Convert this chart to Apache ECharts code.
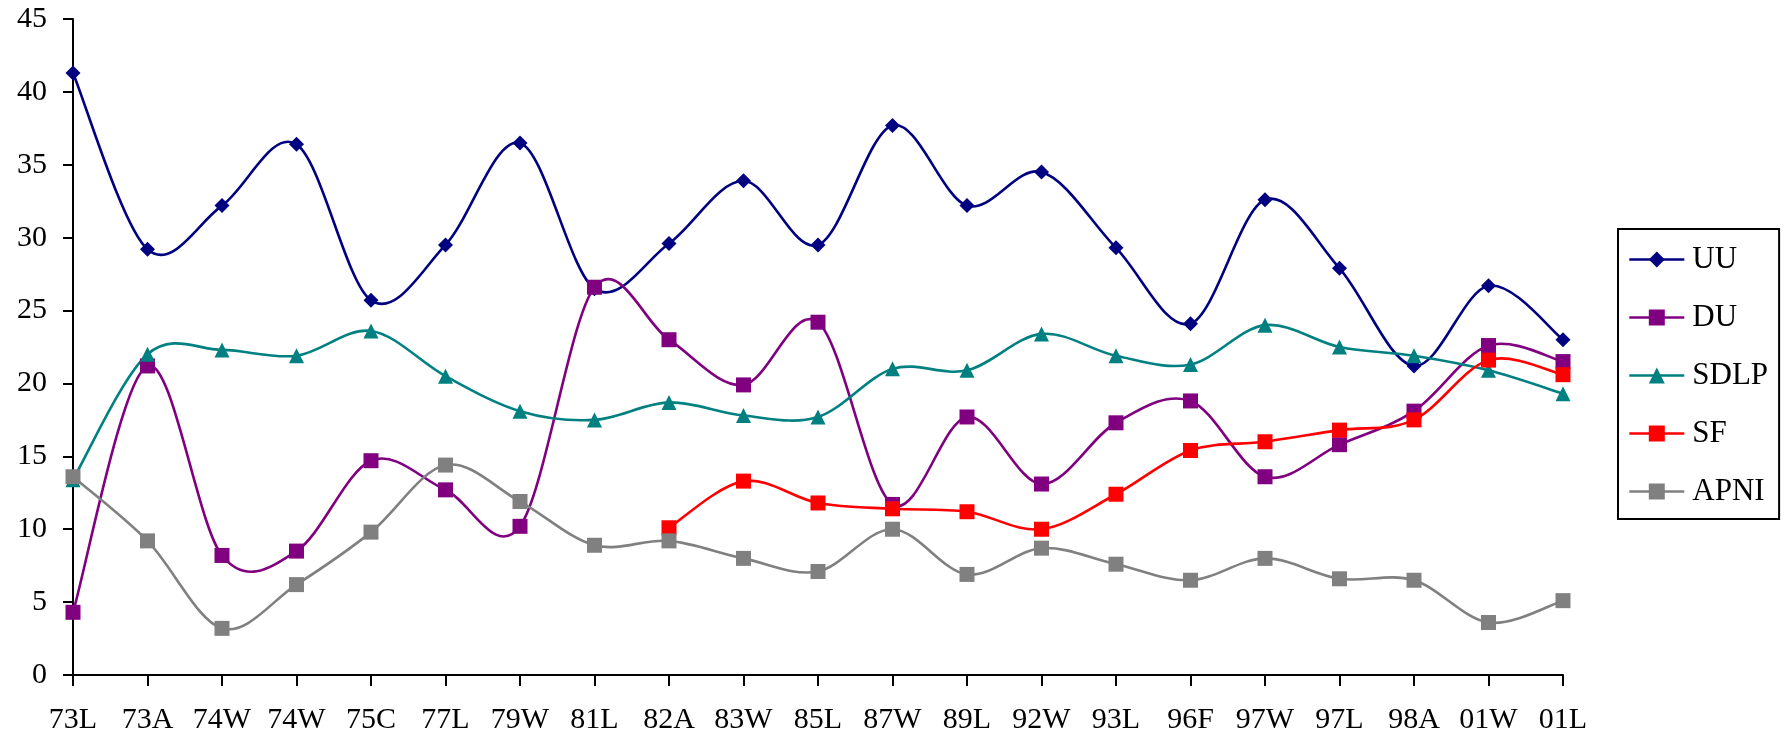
<!DOCTYPE html>
<html>
<head>
<meta charset="utf-8">
<script src="https://cdn.jsdelivr.net/npm/echarts@6/dist/echarts.min.js"></script>
<style>
html,body{margin:0;padding:0;background:#fff;}
#chart{width:1784px;height:740px;}
</style>
</head>
<body>
<div id="chart"></div>
<script>
const categories = ['73L','73A','74W','74W','75C','77L','79W','81L','82A','83W','85L','87W','89L','92W','93L','96F','97W','97L','98A','01W','01L'];
const seriesNames = ['UU','DU','SDLP','SF','APNI'];
const UU   = [41.3, 29.2, 32.2, 36.4, 25.7, 29.5, 36.5, 26.5, 29.6, 33.9, 29.5, 37.7, 32.2, 34.5, 29.3, 24.1, 32.6, 27.9, 21.2, 26.7, 23.0];
const DU   = [4.3, 21.2, 8.2, 8.5, 14.7, 12.7, 10.2, 26.6, 23.0, 19.9, 24.2, 11.7, 17.7, 13.1, 17.3, 18.8, 13.6, 15.8, 18.1, 22.6, 21.5];
const SDLP = [13.4, 22.0, 22.3, 21.9, 23.6, 20.5, 18.1, 17.5, 18.7, 17.8, 17.7, 21.0, 20.9, 23.4, 21.9, 21.3, 24.0, 22.5, 21.9, 20.9, 19.3];
const SF   = [null, null, null, null, null, null, null, null, 10.1, 13.3, 11.8, 11.4, 11.2, 10.0, 12.4, 15.4, 16.0, 16.8, 17.5, 21.6, 20.6];
const APNI = [13.6, 9.2, 3.2, 6.2, 9.8, 14.4, 11.9, 8.9, 9.2, 8.0, 7.1, 10.0, 6.9, 8.7, 7.6, 6.5, 8.0, 6.6, 6.5, 3.6, 5.1];
const yTicks = {min: 0, max: 45, interval: 5};

const font = "'Liberation Serif', 'Times New Roman', serif";
const colors = ['#000080', '#800080', '#008080', '#FF0000', '#808080'];
const symbols = ['diamond', 'rect', 'triangle', 'rect', 'rect'];
const sizes = [15, 15, 15, 15, 15];
const datas = [UU, DU, SDLP, SF, APNI];
const LW = 2.6;

// Smooth curve (Excel-like Catmull-Rom) drawn through the chart's own coordinate system
function curveSeries(values, color, idx) {
  return {
    name: seriesNames[idx] + '-curve',
    type: 'custom',
    silent: true,
    z: 2,
    data: [[0, values.find(v => v != null)]],
    encode: {x: 0, y: 1},
    renderItem: function (params, api) {
      const pts = [];
      values.forEach((v, i) => { if (v != null) pts.push(api.coord([i, v])); });
      let d = 'M' + pts[0][0] + ' ' + pts[0][1];
      for (let i = 0; i < pts.length - 1; i++) {
        const p0 = pts[i - 1] || pts[i], p1 = pts[i], p2 = pts[i + 1], p3 = pts[i + 2] || pts[i + 1];
        const c1x = p1[0] + (p2[0] - p0[0]) / 6, c1y = p1[1] + (p2[1] - p0[1]) / 6;
        const c2x = p2[0] - (p3[0] - p1[0]) / 6, c2y = p2[1] - (p3[1] - p1[1]) / 6;
        d += ' C' + c1x + ' ' + c1y + ' ' + c2x + ' ' + c2y + ' ' + p2[0] + ' ' + p2[1];
      }
      return {
        type: 'path',
        shape: {pathData: d},
        style: {fill: 'none', stroke: color, lineWidth: LW, lineJoin: 'round'}
      };
    }
  };
}

const series = [];
seriesNames.forEach((name, i) => {
  series.push(curveSeries(datas[i], colors[i], i));
});
seriesNames.forEach((name, i) => {
  series.push({
    name: name,
    type: 'line',
    data: datas[i],
    symbol: symbols[i],
    symbolSize: sizes[i],
    showAllSymbol: true,
    connectNulls: false,
    lineStyle: {color: colors[i], width: LW, opacity: 0},
    itemStyle: {color: colors[i]},
    z: 3 + i
  });
});

const chart = echarts.init(document.getElementById('chart'), null, {renderer: 'canvas'});
const option = {
  animation: false,
  backgroundColor: '#ffffff',
  grid: {left: 73, right: 221, top: 19, bottom: 65, containLabel: false},
  legend: {
    orient: 'vertical',
    left: 1618,
    top: 229,
    padding: [15, 11, 12, 10],
    itemWidth: 55,
    itemHeight: 20,
    itemGap: 27,
    borderColor: '#000',
    borderWidth: 2,
    lineStyle: {width: LW, opacity: 1},
    textStyle: {fontFamily: font, fontSize: 31, color: '#000', padding: [0, 0, 0, 3]},
    data: seriesNames
  },
  xAxis: {
    type: 'category',
    data: categories,
    dedplication: false,
    boundaryGap: false,
    axisLine: {lineStyle: {color: '#000', width: 2}},
    axisTick: {show: true, length: 11, alignWithLabel: true, lineStyle: {color: '#000', width: 2}},
    axisLabel: {fontFamily: font, fontSize: 30, color: '#000', margin: 30, interval: 0},
    splitLine: {show: false}
  },
  yAxis: {
    type: 'value',
    min: yTicks.min, max: yTicks.max, interval: yTicks.interval,
    axisLine: {show: true, lineStyle: {color: '#000', width: 2}},
    axisTick: {show: true, length: 10, lineStyle: {color: '#000', width: 2}},
    axisLabel: {fontFamily: font, fontSize: 30, color: '#000', margin: 26},
    splitLine: {show: false}
  },
  series: series
};
chart.setOption(option);
</script>
</body>
</html>
